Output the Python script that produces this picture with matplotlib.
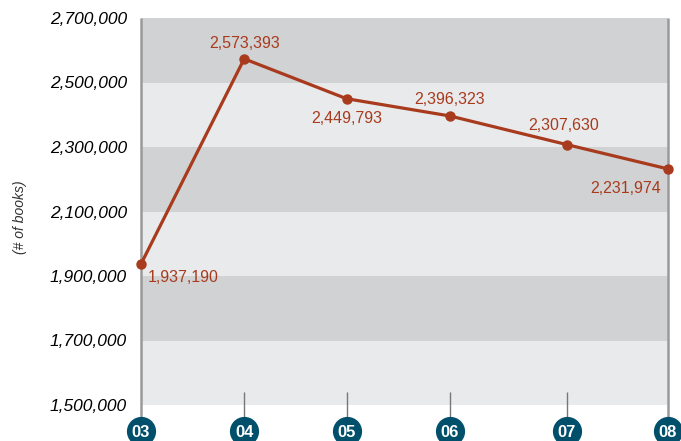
import matplotlib.pyplot as plt
import matplotlib.transforms as mtransforms

# Data
years = ['03', '04', '05', '06', '07', '08']
# position of each year along the axis (months from start of '03)
year_pos = [0, 11.75, 23.4, 35.15, 48.45, 60]
books = [1937190, 2573393, 2449793, 2396323, 2307630, 2231974]
y_ticks = [1500000, 1700000, 1900000, 2100000, 2300000, 2500000, 2700000]

# label offsets in points (dx, dy, ha)
label_offsets = [(5, -10, 'left'), (0, 11, 'center'), (0, -14, 'center'),
                 (0, 12, 'center'), (-2, 14, 'center'), (-5, -14, 'right')]

line_color = '#a83b1d'
dark_band = '#d1d2d4'
light_band = '#e9eaec'
circle_color = '#00506c'

fig = plt.figure(figsize=(6.81, 4.41), dpi=100)
ax = fig.add_axes([141 / 681, 36 / 441, 527 / 681, 387 / 441])

# alternating horizontal bands
for i in range(len(y_ticks) - 1):
    ax.axhspan(y_ticks[i], y_ticks[i + 1], color=light_band if i % 2 == 0 else dark_band,
               lw=0, zorder=0)

ax.plot(year_pos, books, color=line_color, lw=2.3, marker='o', ms=6.5, zorder=3,
        clip_on=False)

for x, y, (dx, dy, ha) in zip(year_pos, books, label_offsets):
    ax.annotate(f'{y:,}', (x, y), xytext=(dx, dy), textcoords='offset points',
                ha=ha, va='center', color=line_color, fontsize=11.5,
                family='Liberation Sans', zorder=4)

ax.set_xlim(year_pos[0], year_pos[-1])
ax.set_ylim(y_ticks[0], y_ticks[-1])
ax.set_yticks(y_ticks)
ax.set_yticklabels([f'{t:,}' for t in y_ticks], fontsize=12.5, style='italic',
                   family='Liberation Sans')
ax.tick_params(axis='y', length=0, pad=10)
ax.set_xticks([])
for s in ax.spines.values():
    s.set_visible(False)

fig.text(20 / 681, 0.508, '(# of books)', rotation=90, ha='center', va='center',
         fontsize=10, style='italic', color='#333333', family='Liberation Sans')

# year markers below the axis
trans = mtransforms.blended_transform_factory(ax.transData, ax.transAxes)
ax.vlines([year_pos[0], year_pos[-1]], -0.04, 1, colors='#9a9a9a', lw=1.8,
          transform=trans, clip_on=False, zorder=2)
ax.vlines(year_pos[1:-1], -0.04, 0.034, colors='#777777', lw=1,
          transform=trans, clip_on=False, zorder=2)
ax.plot(year_pos, [-0.068] * len(year_pos), 'o', ms=20, color=circle_color,
        transform=trans, clip_on=False, zorder=5)
for x, lab in zip(year_pos, years):
    ax.text(x, -0.07, lab, transform=trans, ha='center', va='center',
            color='white', fontsize=12, fontweight='bold',
            family=['Liberation Sans Narrow', 'Liberation Sans'], zorder=6)

fig.savefig('out.png', dpi=100)
